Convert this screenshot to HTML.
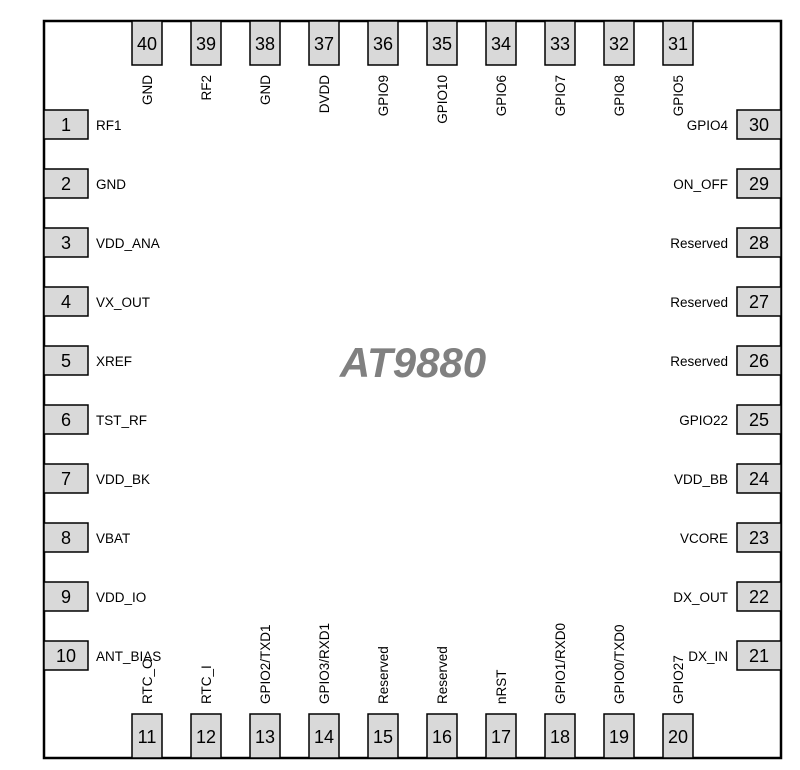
<!DOCTYPE html>
<html><head><meta charset="utf-8"><style>
html,body{margin:0;padding:0;background:#fff;}
svg{display:block;font-family:"Liberation Sans",sans-serif;}
.n{font-size:18px;fill:#000;text-anchor:middle;}
.l{font-size:13.5px;fill:#000;}
.t{font-size:13.5px;fill:#000;text-anchor:end;}
.p{fill:#d9d9d9;stroke:#000;stroke-width:1.5;}
</style></head><body>
<svg width="800" height="770" viewBox="0 0 800 770">
<rect x="44" y="21" width="737" height="737" fill="#fff" stroke="#000" stroke-width="2.5"/>
<text x="413" y="377" font-size="42" font-weight="bold" font-style="italic" fill="#808080" text-anchor="middle">AT9880</text>
<g id="left">
<rect class="p" x="44" y="110" width="44" height="29"/><text class="n" x="66" y="131">1</text><text class="l" x="96" y="130">RF1</text>
<rect class="p" x="44" y="169" width="44" height="29"/><text class="n" x="66" y="190">2</text><text class="l" x="96" y="189">GND</text>
<rect class="p" x="44" y="228" width="44" height="29"/><text class="n" x="66" y="249">3</text><text class="l" x="96" y="248">VDD_ANA</text>
<rect class="p" x="44" y="287" width="44" height="29"/><text class="n" x="66" y="308">4</text><text class="l" x="96" y="307">VX_OUT</text>
<rect class="p" x="44" y="346" width="44" height="29"/><text class="n" x="66" y="367">5</text><text class="l" x="96" y="366">XREF</text>
<rect class="p" x="44" y="405" width="44" height="29"/><text class="n" x="66" y="426">6</text><text class="l" x="96" y="425">TST_RF</text>
<rect class="p" x="44" y="464" width="44" height="29"/><text class="n" x="66" y="485">7</text><text class="l" x="96" y="484">VDD_BK</text>
<rect class="p" x="44" y="523" width="44" height="29"/><text class="n" x="66" y="544">8</text><text class="l" x="96" y="543">VBAT</text>
<rect class="p" x="44" y="582" width="44" height="29"/><text class="n" x="66" y="603">9</text><text class="l" x="96" y="602">VDD_IO</text>
<rect class="p" x="44" y="641" width="44" height="29"/><text class="n" x="66" y="662">10</text><text class="l" x="96" y="661">ANT_BIAS</text>
</g>
<g id="right">
<rect class="p" x="737" y="110" width="44" height="29"/><text class="n" x="759" y="131">30</text><text class="l" x="728" y="130" text-anchor="end">GPIO4</text>
<rect class="p" x="737" y="169" width="44" height="29"/><text class="n" x="759" y="190">29</text><text class="l" x="728" y="189" text-anchor="end">ON_OFF</text>
<rect class="p" x="737" y="228" width="44" height="29"/><text class="n" x="759" y="249">28</text><text class="l" x="728" y="248" text-anchor="end">Reserved</text>
<rect class="p" x="737" y="287" width="44" height="29"/><text class="n" x="759" y="308">27</text><text class="l" x="728" y="307" text-anchor="end">Reserved</text>
<rect class="p" x="737" y="346" width="44" height="29"/><text class="n" x="759" y="367">26</text><text class="l" x="728" y="366" text-anchor="end">Reserved</text>
<rect class="p" x="737" y="405" width="44" height="29"/><text class="n" x="759" y="426">25</text><text class="l" x="728" y="425" text-anchor="end">GPIO22</text>
<rect class="p" x="737" y="464" width="44" height="29"/><text class="n" x="759" y="485">24</text><text class="l" x="728" y="484" text-anchor="end">VDD_BB</text>
<rect class="p" x="737" y="523" width="44" height="29"/><text class="n" x="759" y="544">23</text><text class="l" x="728" y="543" text-anchor="end">VCORE</text>
<rect class="p" x="737" y="582" width="44" height="29"/><text class="n" x="759" y="603">22</text><text class="l" x="728" y="602" text-anchor="end">DX_OUT</text>
<rect class="p" x="737" y="641" width="44" height="29"/><text class="n" x="759" y="662">21</text><text class="l" x="728" y="661" text-anchor="end">DX_IN</text>
</g>
<g id="top">
<rect class="p" x="132" y="21" width="30" height="44"/><text class="n" x="147" y="50">40</text><text class="t" transform="translate(152,75) rotate(-90)">GND</text>
<rect class="p" x="191" y="21" width="30" height="44"/><text class="n" x="206" y="50">39</text><text class="t" transform="translate(211,75) rotate(-90)">RF2</text>
<rect class="p" x="250" y="21" width="30" height="44"/><text class="n" x="265" y="50">38</text><text class="t" transform="translate(270,75) rotate(-90)">GND</text>
<rect class="p" x="309" y="21" width="30" height="44"/><text class="n" x="324" y="50">37</text><text class="t" transform="translate(329,75) rotate(-90)">DVDD</text>
<rect class="p" x="368" y="21" width="30" height="44"/><text class="n" x="383" y="50">36</text><text class="t" transform="translate(388,75) rotate(-90)">GPIO9</text>
<rect class="p" x="427" y="21" width="30" height="44"/><text class="n" x="442" y="50">35</text><text class="t" transform="translate(447,75) rotate(-90)">GPIO10</text>
<rect class="p" x="486" y="21" width="30" height="44"/><text class="n" x="501" y="50">34</text><text class="t" transform="translate(506,75) rotate(-90)">GPIO6</text>
<rect class="p" x="545" y="21" width="30" height="44"/><text class="n" x="560" y="50">33</text><text class="t" transform="translate(565,75) rotate(-90)">GPIO7</text>
<rect class="p" x="604" y="21" width="30" height="44"/><text class="n" x="619" y="50">32</text><text class="t" transform="translate(624,75) rotate(-90)">GPIO8</text>
<rect class="p" x="663" y="21" width="30" height="44"/><text class="n" x="678" y="50">31</text><text class="t" transform="translate(683,75) rotate(-90)">GPIO5</text>
</g>
<g id="bottom">
<rect class="p" x="132" y="714" width="30" height="44"/><text class="n" x="147" y="743">11</text><text class="l" transform="translate(152,704) rotate(-90)">RTC_O</text>
<rect class="p" x="191" y="714" width="30" height="44"/><text class="n" x="206" y="743">12</text><text class="l" transform="translate(211,704) rotate(-90)">RTC_I</text>
<rect class="p" x="250" y="714" width="30" height="44"/><text class="n" x="265" y="743">13</text><text class="l" transform="translate(270,704) rotate(-90)">GPIO2/TXD1</text>
<rect class="p" x="309" y="714" width="30" height="44"/><text class="n" x="324" y="743">14</text><text class="l" transform="translate(329,704) rotate(-90)">GPIO3/RXD1</text>
<rect class="p" x="368" y="714" width="30" height="44"/><text class="n" x="383" y="743">15</text><text class="l" transform="translate(388,704) rotate(-90)">Reserved</text>
<rect class="p" x="427" y="714" width="30" height="44"/><text class="n" x="442" y="743">16</text><text class="l" transform="translate(447,704) rotate(-90)">Reserved</text>
<rect class="p" x="486" y="714" width="30" height="44"/><text class="n" x="501" y="743">17</text><text class="l" transform="translate(506,704) rotate(-90)">nRST</text>
<rect class="p" x="545" y="714" width="30" height="44"/><text class="n" x="560" y="743">18</text><text class="l" transform="translate(565,704) rotate(-90)">GPIO1/RXD0</text>
<rect class="p" x="604" y="714" width="30" height="44"/><text class="n" x="619" y="743">19</text><text class="l" transform="translate(624,704) rotate(-90)">GPIO0/TXD0</text>
<rect class="p" x="663" y="714" width="30" height="44"/><text class="n" x="678" y="743">20</text><text class="l" transform="translate(683,704) rotate(-90)">GPIO27</text>
</g>
</svg>
</body></html>
